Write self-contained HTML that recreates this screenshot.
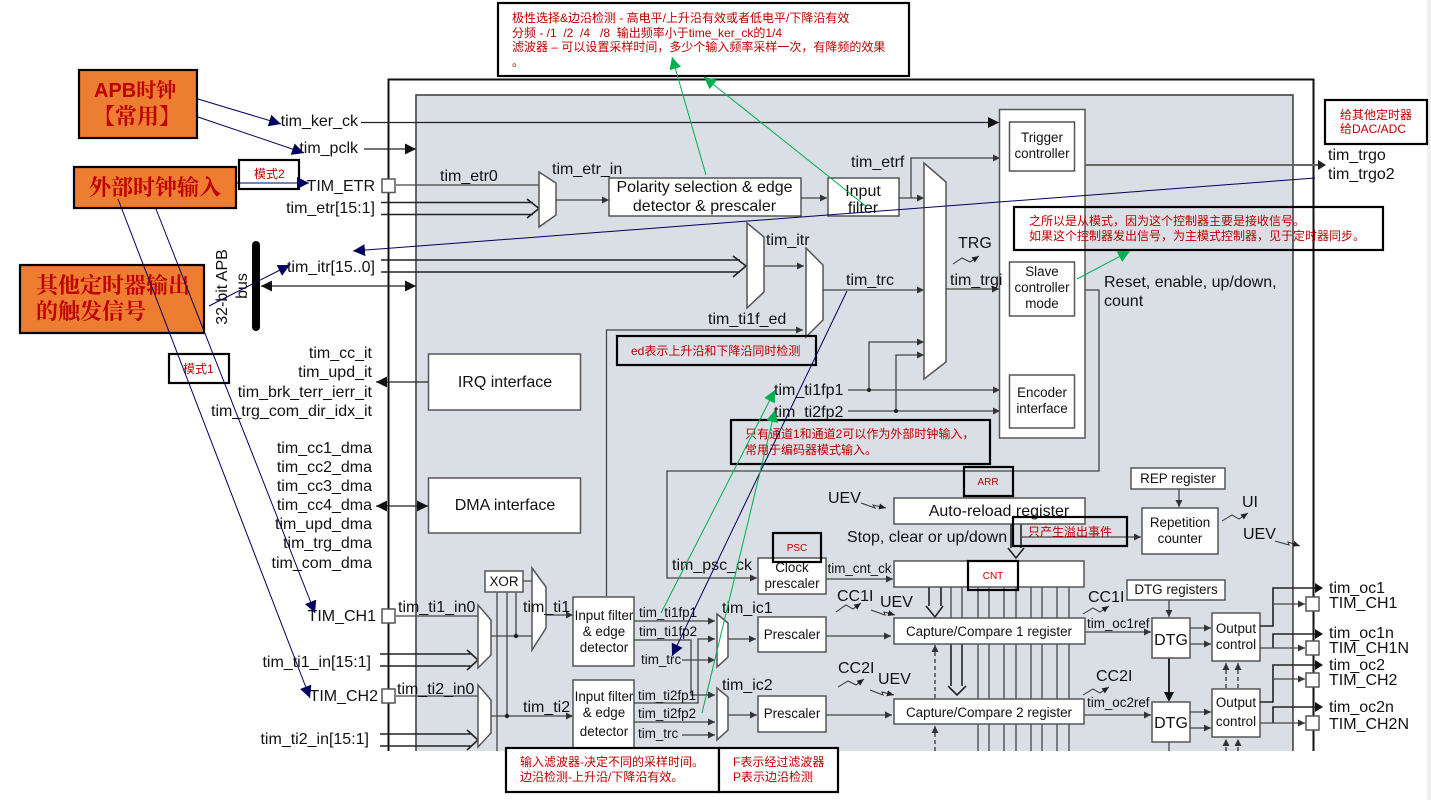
<!DOCTYPE html>
<html><head><meta charset="utf-8"><title>TIM block diagram</title>
<style>
html,body{margin:0;padding:0;background:#fff;width:1431px;height:800px;overflow:hidden}
svg{display:block}
text{font-family:"Liberation Sans","Noto Sans CJK SC",sans-serif;font-size:16px;fill:#111;white-space:pre}
.s{font-size:13.4px}
.m{text-anchor:middle}
.e{text-anchor:end}
.w{fill:#fff;stroke:#555;stroke-width:1.5}
.l{fill:none;stroke:#444;stroke-width:1.3}
.k{fill:none;stroke:#222;stroke-width:1.6}
.a{fill:none;stroke:#444;stroke-width:1.3;marker-end:url(#sm)}
.b{fill:none;stroke:#222;stroke-width:1.3;marker-end:url(#bg)}
.d{fill:none;stroke:#333;stroke-width:1.3;stroke-dasharray:4 3;marker-end:url(#sm)}
.z{fill:none;stroke:#333;stroke-width:1;marker-end:url(#tn)}
.n{fill:none;stroke:#00005f;stroke-width:1;marker-end:url(#nv)}
.g{fill:none;stroke:#00b050;stroke-width:1;marker-end:url(#gr)}
.x{fill:none;stroke:#000;stroke-width:2.2}
.xw{fill:#fff;stroke:#000;stroke-width:2.2}
.o{fill:#ed7d31;stroke:#000;stroke-width:2.2}
.r{font-size:12px;fill:#c00000}
.t{font-family:"Liberation Sans","Noto Serif CJK SC",serif;font-weight:700;fill:#c00000;font-size:20px}
.c{font-family:"Noto Serif CJK SC",serif;font-weight:700;fill:#c00000;font-size:22px}
</style></head><body>
<svg width="1431" height="800" viewBox="0 0 1431 800" xmlns="http://www.w3.org/2000/svg">
<defs>
<marker id="sm" markerUnits="userSpaceOnUse" markerWidth="8" markerHeight="8" refX="7" refY="4" orient="auto"><path d="M0 .5L7 4L0 7.5z" fill="#333"/></marker>
<marker id="tn" markerUnits="userSpaceOnUse" markerWidth="8" markerHeight="8" refX="7" refY="4" orient="auto"><path d="M0 1L7 4L0 7z" fill="#222"/></marker>
<marker id="bg" markerUnits="userSpaceOnUse" markerWidth="12" markerHeight="12" refX="11" refY="6" orient="auto-start-reverse"><path d="M0 .5L11 6L0 11.5z" fill="#111"/></marker>
<marker id="nv" markerUnits="userSpaceOnUse" markerWidth="13" markerHeight="13" refX="12" refY="6" orient="auto"><path d="M0 0L12 6L0 12z" fill="#00005f"/></marker>
<marker id="gr" markerUnits="userSpaceOnUse" markerWidth="13" markerHeight="13" refX="12" refY="6" orient="auto"><path d="M0 0L12 6L0 12z" fill="#00b050"/></marker>
</defs>

<rect x="1427" y="0" width="4" height="800" fill="#f0f0f0"/>
<rect x="388.5" y="79.5" width="925" height="690" fill="#fff" stroke="#111" stroke-width="2"/>
<rect x="416" y="95" width="877" height="680" fill="#dadee5" stroke="#444" stroke-width="1.6"/>

<!-- top signals -->
<path class="b" d="M361 122.5H999"/>
<path class="b" d="M364 149H416"/>
<path class="l" d="M396 185H539"/>
<path class="k" d="M381 202.5H533M381 214.5H533M527 199L539 208.500L527 218"/>
<path class="k" d="M381 260H740M381 272H740M733 256L746 266L733 277"/>
<path class="b" style="marker-start:url(#bg)" d="M261 286H416"/>
<rect x="252" y="241" width="8" height="90" rx="4" fill="#000"/>

<polygon class="w" points="539,172 556,183 556,215 539,227"/>
<path class="a" d="M556 200H609"/>
<rect class="w" x="609" y="178" width="192" height="38"/>
<path class="a" d="M801 198H827"/>
<rect class="w" x="828" y="178" width="71" height="38"/>
<path class="a" d="M899 198H924"/>
<path class="a" d="M911 198V158H1000"/>

<polygon class="w" points="747,223 764,237 764,292 747,308"/>
<path class="a" d="M764 266H804"/>
<polygon class="w" points="806,248 823,265 823,320 806,337"/>
<path class="a" d="M823 290H924"/>
<path class="a" d="M606.500 596V330H803"/>
<polygon class="w" points="924,163 946,182 946,362 924,379"/>
<path class="a" d="M946 289H999"/>
<path class="a" d="M869 390V342H924"/>
<path class="a" d="M896 411V355H924"/>
<path class="a" d="M848 390H1000"/>
<path class="a" d="M848 411H1000"/>
<circle cx="869" cy="390" r="2" fill="#222"/><circle cx="896" cy="411" r="2" fill="#222"/>

<!-- central white column -->
<rect class="w" x="999.500" y="109.500" width="85.500" height="328.500"/>
<rect class="w" x="1009.500" y="122" width="65" height="49"/>
<rect class="w" x="1009.500" y="262" width="65" height="54"/>
<rect class="w" x="1009.500" y="375" width="65" height="53"/>
<path d="M1085 165H1318" stroke="#666" stroke-width="2" fill="none"/>
<path d="M1318 160L1326 165L1318 170z" fill="#222"/>
<path class="a" d="M1085 290H1099V471H667V578H757"/>

<!-- IRQ/DMA -->
<rect class="w" x="428.500" y="354" width="152" height="56"/>
<rect class="w" x="428.500" y="478" width="152" height="55"/>
<path class="b" d="M428 382H376"/>
<path class="b" style="marker-start:url(#bg)" d="M376 506H428"/>

<!-- counters -->
<path class="l" d="M978 587V751M989 587V751M1004 587V751M1016 587V751M1031 587V751M1042 587V751M1057 587V751M1069 587V751M951 587V618M962 587V618"/>
<path class="k" d="M929 587V606M941 587V606M926 606L935 617L943 606"/>
<path class="k" d="M951 644V686M962 644V686M948 686L957 695L966 686"/>
<path class="k" d="M1011 524V548M1021 524V548M1008 548L1016 558L1024 548"/>
<path class="d" d="M935 698V645"/>
<path class="d" d="M935 751V726"/>
<rect class="w" x="758" y="558" width="68" height="36"/>
<path class="a" d="M826 579H893"/>
<rect class="w" x="894" y="561" width="190" height="26"/>
<rect class="w" x="894" y="498" width="191" height="26"/>
<path class="a" d="M1021 537H1141"/>
<rect class="w" x="1142" y="508" width="76" height="46"/>
<rect class="w" x="1131" y="468" width="94" height="21"/>
<path class="a" d="M1179 489V507"/>
<rect class="w" x="1127" y="580" width="98" height="20"/>
<path class="a" d="M1169 600V617"/>
<rect class="w" x="894" y="618" width="191" height="26"/>
<rect class="w" x="894" y="699" width="190" height="25"/>
<path class="a" d="M1085 632H1151"/>
<path class="a" d="M1084 715H1151"/>
<path d="M1169 658V694" stroke="#222" stroke-width="2"/><path d="M1164 692H1174L1169 702z" fill="#111"/>
<path class="l" d="M1169 742V751"/>
<rect class="w" x="1152" y="618" width="38" height="40"/>
<rect class="w" x="1152" y="702" width="38" height="40"/>
<path class="a" d="M1190 628H1211"/><path class="a" d="M1190 644H1211"/>
<path class="a" d="M1190 712H1211"/><path class="a" d="M1190 728H1211"/>
<rect class="w" x="1212" y="613" width="48" height="48"/>
<rect class="w" x="1212" y="689" width="48" height="48"/>
<path class="d" d="M1226 688V663"/><path class="d" d="M1238 688V663"/>
<path class="d" d="M1226 751V739"/><path class="d" d="M1238 751V739"/>

<path class="k" d="M1260 626H1273V588H1316"/><path d="M1315 583L1323 588L1315 593z" fill="#111"/>
<path class="a" d="M1273 604H1305"/>
<path class="k" d="M1273 648V634H1316"/><path d="M1315 629L1323 634L1315 639z" fill="#111"/>
<path class="a" d="M1260 648H1305"/>
<path class="k" d="M1260 702H1273V665H1316"/><path d="M1315 660L1323 665L1315 670z" fill="#111"/>
<path class="a" d="M1273 679H1305"/>
<path class="k" d="M1273 723V707H1316"/><path d="M1315 702L1323 707L1315 712z" fill="#111"/>
<path class="a" d="M1260 723H1305"/>
<rect class="w" x="1306" y="597" width="13" height="14"/>
<rect class="w" x="1306" y="641" width="13" height="14"/>
<rect class="w" x="1306" y="673" width="13" height="14"/>
<rect class="w" x="1306" y="716" width="13" height="14"/>

<!-- input stage -->
<path class="l" d="M396 616H478M396 696H478"/>
<path class="k" d="M380 654H472M380 666H472M467 650L478 660L467 670"/>
<path class="k" d="M380 734H472M380 746H472M467 730L478 740L467 750"/>
<polygon class="w" points="478,605 491,620 491,655 478,668"/>
<polygon class="w" points="478,685 491,700 491,733 478,747"/>
<path class="l" d="M491 636H532"/>
<path class="a" d="M491 716H573"/>
<path class="l" d="M497 592V751M507 592V716M516 592V636M523 581H532"/>
<circle cx="516" cy="636" r="2.200" fill="#222"/><circle cx="507" cy="716" r="2.200" fill="#222"/>
<rect class="w" x="485" y="571" width="38" height="21"/>
<polygon class="w" points="532,568 546,587 546,628 532,650"/>
<path class="a" d="M546 615H573"/>
<rect class="w" x="573" y="597" width="61" height="69"/>
<rect class="w" x="573" y="680" width="61" height="90"/>
<path class="a" d="M634 621H715"/>
<path class="a" d="M634 640H691V695H715"/>
<path class="a" d="M634 703H698V639H715"/>
<path class="a" d="M682 660H715"/>
<path class="a" d="M634 722H715"/>
<path class="a" d="M682 735H715"/>
<polygon class="w" points="717,614 728,623 728,657 717,667"/>
<polygon class="w" points="717,688 728,697 728,730 717,740"/>
<path class="a" d="M728 639H756"/><path class="a" d="M728 715H757"/>
<rect class="w" x="758" y="617" width="68" height="35"/>
<rect class="w" x="758" y="696" width="68" height="36"/>
<path class="a" d="M826 636H891"/><path class="a" d="M826 715H892"/>

<!-- pads -->
<rect class="w" x="382" y="179" width="13" height="13.500"/>
<rect class="w" x="382" y="609" width="13" height="14"/>
<rect class="w" x="382" y="689" width="13" height="14"/>

<!-- zigzags -->
<path class="z" d="M953 264L962 258L970 262L979 256"/>
<path class="z" d="M861 503L875 508L873 505L886 508"/>
<path class="z" d="M836 612L846 605L853 609L861 603"/>
<path class="z" d="M871 610L885 615L884 612L895 615"/>
<path class="z" d="M838 687L848 681L856 685L864 679"/>
<path class="z" d="M870 690L883 695L882 692L894 695"/>
<path class="z" d="M1083 614L1093 608L1100 612L1109 606"/>
<path class="z" d="M1083 695L1093 689L1100 693L1109 687"/>
<path class="z" d="M1222 521L1232 515L1239 519L1248 513"/>
<path class="z" d="M1275 541L1289 545L1288 542L1300 546"/>

<!-- white cover below crop -->
<rect x="0" y="751" width="1427" height="49" fill="#fff"/>

<!-- labels -->
<text x="358" y="126" class="e">tim_ker_ck</text>
<text x="358" y="153" class="e">tim_pclk</text>
<text x="375" y="191" class="e">TIM_ETR</text>
<text x="375" y="213" class="e">tim_etr[15:1]</text>
<text x="375" y="272" class="e">tim_itr[15..0]</text>
<text x="372" y="358" class="e">tim_cc_it</text>
<text x="372" y="377" class="e">tim_upd_it</text>
<text x="372" y="397" class="e">tim_brk_terr_ierr_it</text>
<text x="372" y="416" class="e">tim_trg_com_dir_idx_it</text>
<text x="372" y="453" class="e">tim_cc1_dma</text>
<text x="372" y="472" class="e">tim_cc2_dma</text>
<text x="372" y="491" class="e">tim_cc3_dma</text>
<text x="372" y="510" class="e">tim_cc4_dma</text>
<text x="372" y="529" class="e">tim_upd_dma</text>
<text x="372" y="548" class="e">tim_trg_dma</text>
<text x="372" y="568" class="e">tim_com_dma</text>
<text x="376" y="621" class="e">TIM_CH1</text>
<text x="378" y="701" class="e">TIM_CH2</text>
<text x="371" y="667" class="e">tim_ti1_in[15:1]</text>
<text x="369" y="744" class="e">tim_ti2_in[15:1]</text>
<text x="398" y="612">tim_ti1_in0</text>
<text x="397" y="694">tim_ti2_in0</text>
<text x="440" y="181">tim_etr0</text>
<text x="552" y="174">tim_etr_in</text>
<text x="851" y="167">tim_etrf</text>
<text x="766" y="245">tim_itr</text>
<text x="846" y="285">tim_trc</text>
<text x="708" y="324">tim_ti1f_ed</text>
<text x="774" y="395">tim_ti1fp1</text>
<text x="774" y="417">tim_ti2fp2</text>
<text x="958" y="248">TRG</text>
<text x="950" y="285">tim_trgi</text>
<text x="1104" y="287">Reset, enable, up/down,</text>
<text x="1104" y="306">count</text>
<text x="1328" y="160">tim_trgo</text>
<text x="1328" y="179">tim_trgo2</text>
<text x="704.500" y="192" class="m">Polarity selection &amp; edge</text>
<text x="704.500" y="211" class="m">detector &amp; prescaler</text>
<text x="863" y="196" class="m">Input</text>
<text x="863" y="213" class="m">filter</text>
<text x="1042" y="142" class="s m">Trigger</text>
<text x="1042" y="158" class="s m">controller</text>
<text x="1042" y="276" class="s m">Slave</text>
<text x="1042" y="292" class="s m">controller</text>
<text x="1042" y="308" class="s m">mode</text>
<text x="1042" y="397" class="s m">Encoder</text>
<text x="1042" y="413" class="s m">interface</text>
<text x="505" y="387" class="m">IRQ interface</text>
<text x="505" y="510" class="m">DMA interface</text>
<text transform="translate(227,287) rotate(-90)" class="m">32-bit APB</text>
<text transform="translate(247,286) rotate(-90)" class="m">bus</text>
<text x="504" y="586" class="s m">XOR</text>
<text x="523" y="612">tim_ti1</text>
<text x="523" y="712">tim_ti2</text>
<text x="604" y="620" class="s m">Input filter</text>
<text x="604" y="636" class="s m">&amp; edge</text>
<text x="604" y="652" class="s m">detector</text>
<text x="604" y="701" class="s m">Input filter</text>
<text x="604" y="717" class="s m">&amp; edge</text>
<text x="604" y="736" class="s m">detector</text>
<text x="639" y="617" class="s">tim_ti1fp1</text>
<text x="639" y="636" class="s">tim_ti1fp2</text>
<text x="641" y="664" class="s">tim_trc</text>
<text x="638" y="700" class="s">tim_ti2fp1</text>
<text x="638" y="718" class="s">tim_ti2fp2</text>
<text x="638" y="738" class="s">tim_trc</text>
<text x="722" y="613">tim_ic1</text>
<text x="722" y="690">tim_ic2</text>
<text x="792" y="639" class="s m">Prescaler</text>
<text x="792" y="718" class="s m">Prescaler</text>
<text x="792" y="572" class="s m">Clock</text>
<text x="792" y="588" class="s m">prescaler</text>
<text x="672" y="570">tim_psc_ck</text>
<text x="827.500" y="573" class="s">tim_cnt_ck</text>
<text x="828" y="503">UEV</text>
<text x="999" y="516" class="m">Auto-reload register</text>
<text x="847" y="542">Stop, clear or up/down</text>
<text x="837" y="601">CC1I</text>
<text x="880" y="607">UEV</text>
<text x="838" y="673">CC2I</text>
<text x="878" y="684">UEV</text>
<text x="989" y="636" class="s m">Capture/Compare 1 register</text>
<text x="989" y="717" class="s m">Capture/Compare 2 register</text>
<text x="1088" y="602">CC1I</text>
<text x="1087" y="628" class="s">tim_oc1ref</text>
<text x="1096" y="681">CC2I</text>
<text x="1087" y="707" class="s">tim_oc2ref</text>
<text x="1176" y="594" class="s m">DTG registers</text>
<text x="1178" y="483" class="s m">REP register</text>
<text x="1180" y="527" class="s m">Repetition</text>
<text x="1180" y="543" class="s m">counter</text>
<text x="1242" y="507">UI</text>
<text x="1243" y="539">UEV</text>
<text x="1171" y="645" class="m">DTG</text>
<text x="1171" y="728" class="m">DTG</text>
<text x="1236" y="633" class="s m">Output</text>
<text x="1236" y="649" class="s m">control</text>
<text x="1236" y="707" class="s m">Output</text>
<text x="1236" y="726" class="s m">control</text>
<text x="1329" y="593">tim_oc1</text>
<text x="1329" y="608">TIM_CH1</text>
<text x="1329" y="638">tim_oc1n</text>
<text x="1329" y="653">TIM_CH1N</text>
<text x="1329" y="670">tim_oc2</text>
<text x="1329" y="685">TIM_CH2</text>
<text x="1329" y="712">tim_oc2n</text>
<text x="1329" y="729">TIM_CH2N</text>

<!-- annotation boxes -->
<rect class="o" x="79" y="70" width="118" height="68"/>
<text x="94" y="97" class="t">APB时钟</text>
<text x="93" y="124" class="c">【常用】</text>
<rect class="o" x="74" y="167" width="162" height="41"/>
<text x="155" y="195" class="c m">外部时钟输入</text>
<rect class="o" x="20" y="265" width="184" height="68"/>
<text x="36" y="293" class="c">其他定时器输出</text>
<text x="36" y="319" class="c">的触发信号</text>

<rect class="xw" x="239" y="160" width="60" height="29"/>
<text x="254" y="178" class="r">模式2</text>
<rect class="xw" x="169" y="354" width="60" height="29"/>
<text x="183" y="373" class="r">模式1</text>

<rect class="xw" x="498" y="3" width="411" height="73"/>
<text x="512" y="22" class="r">极性选择&amp;边沿检测 - 高电平/上升沿有效或者低电平/下降沿有效</text>
<text x="512" y="37" class="r" xml:space="preserve">分频 - /1  /2  /4   /8  输出频率小于time_ker_ck的1/4</text>
<text x="512" y="51" class="r">滤波器 – 可以设置采样时间，多少个输入频率采样一次，有降频的效果</text>
<text x="512" y="66" class="r">。</text>

<rect class="x" x="617" y="336" width="199" height="29"/>
<text x="631" y="355" class="r">ed表示上升沿和下降沿同时检测</text>
<rect class="x" x="731" y="420" width="259" height="44"/>
<text x="745" y="438" class="r">只有通道1和通道2可以作为外部时钟输入，</text>
<text x="745" y="454" class="r">常用于编码器模式输入。</text>
<rect class="x" x="964" y="467" width="49" height="29"/>
<text x="988" y="485" class="r m" style="font-size:10px">ARR</text>
<rect class="x" x="968" y="561" width="50" height="29"/>
<text x="993" y="579" class="r m" style="font-size:10px">CNT</text>
<rect class="x" x="773" y="533" width="48" height="29"/>
<text x="797" y="551" class="r m" style="font-size:10px">PSC</text>
<rect class="x" x="1013" y="517" width="114" height="29"/>
<text x="1028" y="536" class="r">只产生溢出事件</text>
<rect class="x" x="1014" y="207" width="369" height="43"/>
<text x="1029" y="225" class="r">之所以是从模式，因为这个控制器主要是接收信号。</text>
<text x="1029" y="240" class="r">如果这个控制器发出信号，为主模式控制器，见于定时器同步。</text>
<rect class="x" x="1325" y="100" width="102" height="44"/>
<text x="1340" y="119" class="r">给其他定时器</text>
<text x="1340" y="133" class="r">给DAC/ADC</text>
<rect class="xw" x="506" y="748" width="213" height="44"/>
<text x="520" y="766" class="r">输入滤波器-决定不同的采样时间。</text>
<text x="520" y="781" class="r">边沿检测-上升沿/下降沿有效。</text>
<rect class="xw" x="719" y="748" width="119" height="44"/>
<text x="733" y="766" class="r">F表示经过滤波器</text>
<text x="733" y="781" class="r">P表示边沿检测</text>

<!-- annotation connectors -->
<path class="n" d="M198 99L281 124"/>
<path class="n" d="M198 117L304 153"/>
<path class="n" d="M237 183L309 183"/>
<path class="n" d="M156 209L315 613"/>
<path class="n" d="M118 199L310 698"/>
<path class="n" d="M209 306L290 265"/>
<path class="n" d="M1315 178L353 251"/>
<path class="n" d="M847 291L672 656"/>
<path class="g" d="M706 175L672 57"/>
<path class="g" d="M867 207L704 77"/>
<path class="g" d="M1077 279L1130 251"/>
<path class="g" d="M661 613L775 390"/>
<path class="g" d="M702 713L775 410"/>
</svg>
</body></html>
